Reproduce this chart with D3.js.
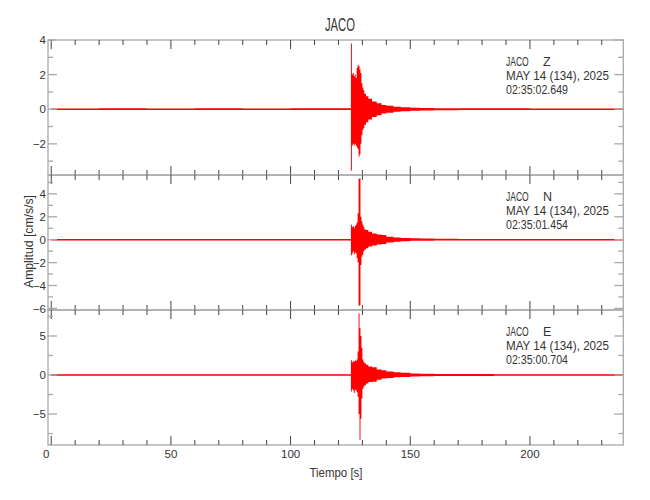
<!DOCTYPE html>
<html><head><meta charset="utf-8">
<script src="https://cdn.jsdelivr.net/npm/d3@7"></script>
<style>
body{margin:0;background:#fff}
svg{display:block}
text{font-family:"Liberation Sans",Arial,sans-serif;fill:#333}
</style>
</head><body>
<svg id="c" width="650" height="500"></svg>
<script>
// ---------------- data ----------------
const station = "JACO";
const components = ["Z", "N", "E"];
const dateLabel = "MAY 14 (134), 2025";
const startTimes = ["02:35:02.649", "02:35:01.454", "02:35:00.704"];
const xTickValues = [0, 50, 100, 150, 200];
const yMajorZ = [-2, 0, 2, 4];
const yMinorZ = [-3, -1, 1, 3];
const yMajorN = [-6, -4, -2, 0, 2, 4];
const yMinorN = [-5, -3, -1, 1, 3, 5];
const yMajorE = [-5, 0, 5];
const yMinorE = [-7.5, -2.5, 2.5, 7.5];
const yDomainZ = [-3.8, 4.0];
const yDomainN = [-6.14, 5.65];
const yDomainE = [-8.97, 8.33];
const xDomain = [-1.35, 239];

// envelope knot times (s) and per-component max / min amplitude (cm/s/s)
const envTime = [0, 20, 40, 60, 80, 100, 115, 122,
  125.2, 125.6, 126.0, 126.4, 126.8, 127.2, 127.6, 128.0, 128.4, 128.8, 129.2, 129.6, 130.0, 130.4, 130.8,
  131.5, 132.5, 134, 136, 138, 140, 143, 146, 150, 154, 160, 170, 185, 200, 220, 239];

const zMax = [0.04, 0.05, 0.04, 0.05, 0.04, 0.05, 0.05, 0.05,
  3.8, 2.0, 2.1, 1.9, 2.0, 1.8, 2.4, 2.56, 2.5, 2.3, 2.1, 1.5, 1.25, 1.1, 0.9,
  0.75, 0.6, 0.45, 0.35, 0.25, 0.2, 0.15, 0.12, 0.09, 0.07, 0.06, 0.05, 0.05, 0.04, 0.04, 0.04];
const zMin = [-0.04, -0.05, -0.04, -0.05, -0.04, -0.05, -0.05, -0.05,
  -3.55, -2.1, -2.0, -2.1, -2.0, -2.1, -2.2, -2.3, -2.74, -2.6, -2.0, -1.5, -1.2, -1.1, -0.9,
  -0.75, -0.6, -0.45, -0.35, -0.25, -0.2, -0.15, -0.12, -0.09, -0.07, -0.06, -0.05, -0.05, -0.04, -0.04, -0.04];

const nMax = [0.06, 0.07, 0.06, 0.07, 0.06, 0.07, 0.06, 0.07,
  1.3, 1.1, 1.2, 1.0, 1.2, 1.3, 1.5, 2.3, 5.3, 5.36, 2.0, 1.6, 1.3, 1.1, 0.9,
  0.85, 0.7, 0.55, 0.45, 0.4, 0.25, 0.2, 0.15, 0.12, 0.1, 0.08, 0.07, 0.07, 0.06, 0.06, 0.06];
const nMin = [-0.06, -0.07, -0.06, -0.07, -0.06, -0.07, -0.06, -0.07,
  -1.35, -1.2, -1.0, -1.3, -1.1, -1.2, -1.6, -2.0, -5.8, -5.7, -2.2, -1.5, -1.3, -1.0, -0.85,
  -0.75, -0.6, -0.5, -0.42, -0.38, -0.25, -0.18, -0.13, -0.1, -0.09, -0.08, -0.07, -0.07, -0.06, -0.06, -0.06];

const eMax = [0.1, 0.11, 0.1, 0.11, 0.1, 0.11, 0.1, 0.11,
  1.9, 1.6, 1.8, 1.7, 1.9, 1.8, 2.0, 3.0, 7.9, 6.0, 5.0, 3.5, 2.0, 1.7, 1.5,
  1.3, 1.1, 1.0, 0.7, 0.6, 0.45, 0.35, 0.28, 0.2, 0.17, 0.13, 0.12, 0.11, 0.1, 0.1, 0.1];
const eMin = [-0.1, -0.11, -0.1, -0.11, -0.1, -0.11, -0.1, -0.11,
  -2.1, -1.8, -2.0, -2.3, -1.9, -2.0, -2.2, -2.8, -5.0, -8.3, -5.6, -3.0, -1.8, -1.5, -1.3,
  -1.1, -0.9, -0.85, -0.6, -0.45, -0.38, -0.3, -0.25, -0.18, -0.15, -0.13, -0.12, -0.11, -0.1, -0.1, -0.1];

// ---------------- layout ----------------
const left = 48, right = 623.3;
const panelTop = 40, panelH = 135;
const frameColor = "#a8a8a8", tickDark = "#444", red = "#ff0000";

const panels = [
  {comp: components[0], time: startTimes[0], dom: yDomainZ, major: yMajorZ, minor: yMinorZ, max: zMax, min: zMin},
  {comp: components[1], time: startTimes[1], dom: yDomainN, major: yMajorN, minor: yMinorN, max: nMax, min: nMin},
  {comp: components[2], time: startTimes[2], dom: yDomainE, major: yMajorE, minor: yMinorE, max: eMax, min: eMin}
];

const svg = d3.select("#c");
const x = d3.scaleLinear().domain(xDomain).range([left, right]);
const xMinor = d3.range(0, 240, 10).filter(v => !xTickValues.includes(v));
const fmt = v => (v < 0 ? "\u2212" + Math.abs(v) : String(v));

function narrowText(sel, len) {
  return sel.attr("textLength", len).attr("lengthAdjust", "spacingAndGlyphs");
}

panels.forEach((p, i) => {
  const top = panelTop + i * panelH, bottom = top + panelH;
  const y = d3.scaleLinear().domain(p.dom).range([bottom, top]);
  const g = svg.append("g");

  const cid = "clip" + i;
  svg.append("clipPath").attr("id", cid).append("rect")
    .attr("x", left).attr("y", top - 6).attr("width", right - left).attr("height", panelH + 12);

  // trace envelope
  const pts = envTime.map((t, k) => ({t, hi: p.max[k], lo: p.min[k]}));
  const area = d3.area().curve(d3.curveStepAfter)
    .x(d => x(d.t)).y0(d => y(d.lo)).y1(d => y(d.hi));
  g.append("path").datum(pts).attr("clip-path", `url(#${cid})`)
    .attr("d", area).attr("fill", red).attr("stroke", "none");

  // frame
  g.append("rect").attr("x", left).attr("y", top).attr("width", right - left).attr("height", panelH)
    .attr("fill", "none").attr("stroke", frameColor).attr("stroke-width", 1.3);

  // x ticks (top & bottom, inward)
  const xt = xTickValues.map(v => ({v, len: 9})).concat(xMinor.map(v => ({v, len: 5})));
  g.selectAll(".xtb").data(xt).join("line")
    .attr("x1", d => x(d.v)).attr("x2", d => x(d.v))
    .attr("y1", bottom).attr("y2", d => bottom - d.len)
    .attr("stroke", tickDark).attr("stroke-width", 1);
  g.selectAll(".xtt").data(xt).join("line")
    .attr("x1", d => x(d.v)).attr("x2", d => x(d.v))
    .attr("y1", top).attr("y2", d => top + d.len)
    .attr("stroke", tickDark).attr("stroke-width", 1);

  // y ticks (left & right, inward)
  const yt = p.major.map(v => ({v, len: 9})).concat(p.minor.map(v => ({v, len: 5})));
  g.selectAll(".ytl").data(yt).join("line")
    .attr("x1", left).attr("x2", d => left + d.len)
    .attr("y1", d => y(d.v)).attr("y2", d => y(d.v))
    .attr("stroke", frameColor).attr("stroke-width", 1.3);
  g.selectAll(".ytr").data(yt).join("line")
    .attr("x1", right).attr("x2", d => right - d.len)
    .attr("y1", d => y(d.v)).attr("y2", d => y(d.v))
    .attr("stroke", frameColor).attr("stroke-width", 1.3);

  // y tick labels
  g.selectAll(".yl").data(p.major).join("text")
    .attr("x", 46).attr("y", d => y(d)).attr("dy", "0.36em")
    .attr("text-anchor", "end").attr("font-size", 11.5)
    .text(fmt);

  // info text
  const info = g.append("g").attr("font-size", 12.5);
  narrowText(info.append("text").attr("x", 506).attr("y", top + 25.5).text(station), 22.7);
  info.append("text").attr("x", 543).attr("y", top + 25.5).text(p.comp);
  narrowText(info.append("text").attr("x", 506).attr("y", top + 39.7).text(dateLabel), 103);
  narrowText(info.append("text").attr("x", 506).attr("y", top + 54).text(p.time), 62);

  // x tick labels on the bottom panel
  if (i === panels.length - 1) {
    g.selectAll(".xl").data(xTickValues).join("text")
      .attr("x", d => x(d)).attr("dx", d => d === 0 ? -5 : 0).attr("y", bottom + 12.5)
      .attr("text-anchor", "middle").attr("font-size", 11.5)
      .text(fmt);
  }
});

// title & axis labels
narrowText(svg.append("text").attr("x", 325).attr("y", 31)
  .attr("font-size", 18).text(station), 30);
narrowText(svg.append("text").attr("x", 309.5).attr("y", 476.5)
  .attr("font-size", 13.5).text("Tiempo [s]"), 53);
narrowText(svg.append("text").attr("transform", `translate(32.5,288) rotate(-90)`)
  .attr("font-size", 13.5).text("Amplitud [cm/s/s]"), 93);
</script>
</body></html>
